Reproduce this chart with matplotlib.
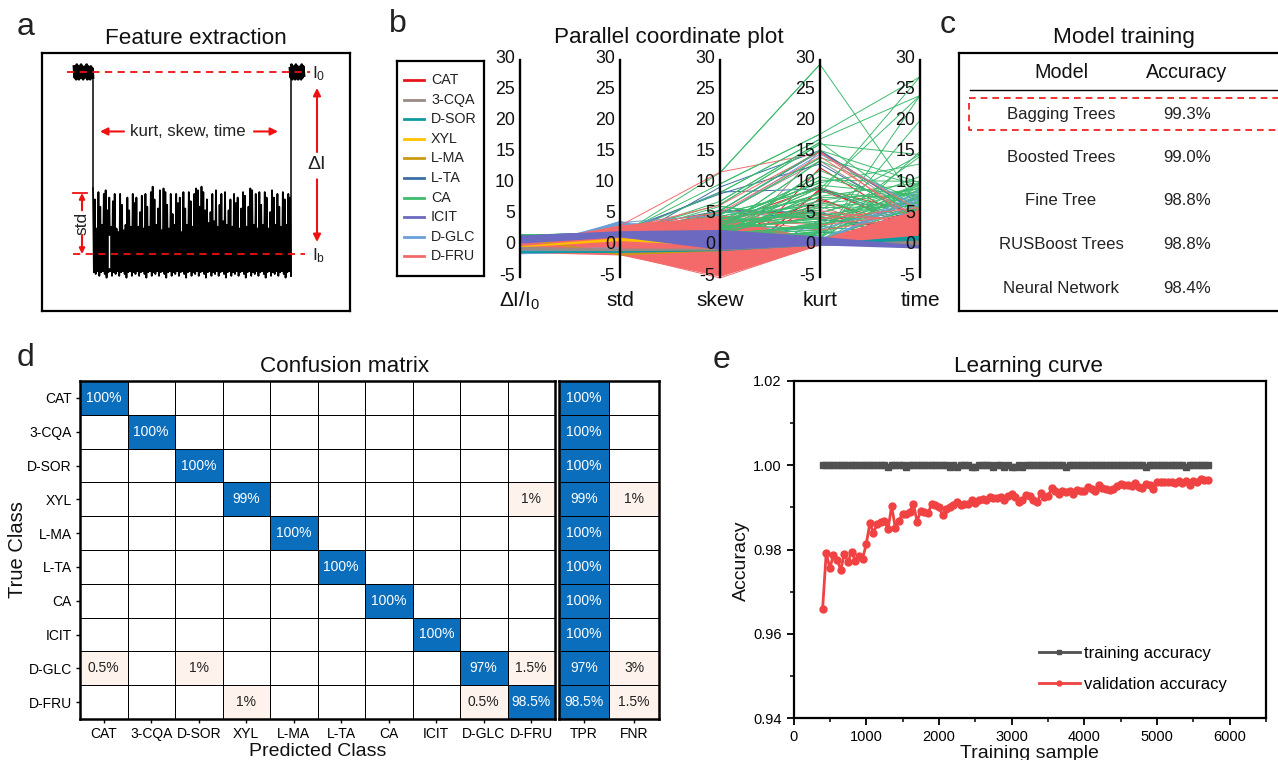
import numpy as np
import matplotlib
matplotlib.use("Agg")
import matplotlib.pyplot as plt
from matplotlib.colors import ListedColormap, BoundaryNorm
from matplotlib.ticker import MultipleLocator

W, H = 1278, 760
plt.rcParams["font.family"] = ["Liberation Sans", "DejaVu Sans"]
plt.rcParams["mathtext.default"] = "regular"
plt.rcParams["mathtext.fontset"] = "custom"
plt.rcParams["mathtext.rm"] = "Liberation Sans"

# panel a: nanopore trace, current relative to I0 = 1 and Ib = 0
spike_tops = [0.36, 0.30, 0.14, 0.34, 0.26, 0.16, 0.33, 0.35, 0.24, 0.31, 0.15, 0.29, 0.33, 0.14, 0.12, 0.33, 0.27,
              0.13, 0.16, 0.31, 0.24, 0.15, 0.33, 0.28, 0.31, 0.15, 0.23, 0.32, 0.14, 0.33, 0.26, 0.15, 0.34, 0.37,
              0.30, 0.16, 0.25, 0.35, 0.13, 0.36, 0.34, 0.27, 0.14, 0.33, 0.22, 0.16, 0.33, 0.28, 0.31, 0.12, 0.34,
              0.25, 0.16, 0.34, 0.29, 0.15, 0.33, 0.36, 0.35, 0.26, 0.37, 0.34, 0.24, 0.30, 0.17, 0.23, 0.33, 0.18,
              0.35, 0.15, 0.27, 0.33, 0.18, 0.34, 0.16, 0.24, 0.30, 0.15, 0.33, 0.28, 0.31, 0.14, 0.25, 0.34, 0.32,
              0.15, 0.26, 0.36, 0.35, 0.16, 0.33, 0.14, 0.34, 0.27, 0.16, 0.34, 0.31, 0.14, 0.23, 0.35, 0.31, 0.16,
              0.33, 0.26, 0.15, 0.34, 0.30, 0.16, 0.33, 0.31]
base_levels = [-0.10, -0.11, -0.09, -0.12, -0.10, -0.09, -0.11, -0.13, -0.10, -0.09, -0.12]
open_noise_left = [1.03, 0.97, 1.02, 0.96, 1.04, 0.98, 1.03, 0.96, 1.02, 0.97, 1.04, 0.97, 1.03, 0.96, 1.02, 0.98,
                   1.03, 0.97, 1.04, 0.96, 1.03, 0.97, 1.02, 0.96, 1.03, 0.98, 1.02, 0.97]
open_noise_right = [1.02, 0.97, 1.04, 0.96, 1.03, 0.97, 1.02, 0.96, 1.04, 0.97, 1.03, 0.96, 1.02, 0.97, 1.03, 0.96,
                    1.04, 0.97, 1.03, 0.98]

# panel b
features = ["\u0394I/I$_0$", "std", "skew", "kurt", "time"]
axis_ticks = [-5, 0, 5, 10, 15, 20, 25, 30]
classes = ["CAT", "3-CQA", "D-SOR", "XYL", "L-MA", "L-TA", "CA", "ICIT", "D-GLC", "D-FRU"]
class_colors = ["#e8141c", "#9b8a84", "#0e9a9e", "#ffc000", "#c99a10", "#3a6ea5", "#3dbb6e", "#6b69c0", "#6a9fd8", "#f46a6a"]

lines_cat = [[-1.1, -1, -4.8, 9, 5], [-1.2, -0.8, -4.6, 12.4, 2.5], [-1, -1.2, -4.2, 8.8, 3], [-1.1, 0.2, 1, 7.2, 2.5],
             [-1, 0.4, 3.5, 9.3, 2], [-1.1, 0.6, 5.5, 5, 1.5], [-1.2, -1.3, -4, 7.5, 1.2], [-1, 1.5, 2.5, 4.5, 1.8]]
lines_cqa = [[-0.5, -0.7, -2, 15.2, 4], [-0.4, 0.5, 5, 13.5, 3.5], [-0.5, 0.2, 4, 7, 1], [-0.4, -0.5, 3, 6.2, 0.8],
             [-0.6, -0.4, 5.5, 4.6, 0.7]]
lines_sor = [[-0.6, -0.8, 1, 3, 1.4], [-0.5, -0.6, -2, 2, 1.2], [-0.4, -0.5, 5.3, 4.2, 1.5]]
lines_lta = [[-1, 0.2, 9.3, 15.2, 5], [-1, 2.2, 8.2, 13, 4], [-0.9, 1.8, 8.5, 9, 3.5], [-1, 2.5, 5.5, 15, 5],
             [-0.9, 1.2, 5.6, 5.2, 2], [-1, -1.2, -4.4, 4, 3], [-1.1, -1, -3.5, 2, 2.5]]
lines_ca = [[1.5, 1.6, 11.6, 29, 6], [1.4, 1.8, 9.8, 17.8, 27], [1.5, 1.7, 8.4, 17, 24], [1.6, 1.9, 6.5, 16.2, 14.5],
            [1.4, 1.6, 5.5, 15.2, 10], [1.5, 2.1, 4.8, 14, 9.5], [1.5, 1.6, 7, 16.5, 5], [1.4, 1.5, 3, 10.4, 10.2],
            [1.5, 1.8, 4, 10, 13], [1.5, 1.6, 2.5, 9.6, 8], [1.6, 1.9, 5, 9, 24], [1.4, 1.7, 3.5, 8.2, 27], [1.5, 1.4, 2, 7.8, 10],
            [1.5, 1.5, 1.5, 7.2, 9], [1.6, 1.7, 4.2, 6.6, 8.5], [1.4, 1.9, 3.3, 5.6, 14.5], [1.5, 1.5, 2.8, 5, 11],
            [1.5, 1.6, 2.2, 4.5, 8], [1.4, 1.5, 6.2, 4, 9.6], [1.5, 1.4, 1, 3.6, 7.5], [1.6, 1.7, 1.8, 3, 10],
            [1.5, 1.5, 3.2, 2.6, 14.2], [1.4, 1.4, 1.2, 2, 7], [1.5, 1.6, 2.1, 1.5, 9], [1.5, 1.5, 1.4, 1, 20],
            [1.6, 1.8, 2.4, 0.6, 24], [1.4, 1.3, 0.8, 0.4, 9.8], [1.5, 1.4, 0.9, 0.2, 8], [1.5, 1.6, 1.5, 0.2, 15],
            [1.5, 1.5, 1, 12, 5], [1.5, 1.7, 2.6, 13.5, 7], [1.6, 1.7, 3.4, 11, 6.5], [1.5, 1.5, 2.3, 6, 6.2],
            [1.4, 1.4, 1.1, 8.5, 7.2], [1.5, 1.6, 1.7, 3.2, 6.8], [1.5, 1.5, 0.7, 2.2, 5.8], [1.4, 1.6, 1.6, 0.8, 6.4],
            [1.5, 1.5, 1.2, 1.8, 10], [1.5, 1.7, 2.9, 3.8, 8.8], [1.5, 1.5, 0.6, 0.5, 7.8], [1.5, 1.6, 4.6, 7.6, 8],
            [1.4, 1.5, 3.6, 5.2, 9.2], [1.5, 1.7, 2.7, 4.2, 7.4], [1.5, 1.4, 1.9, 2.8, 8.4], [1.6, 1.6, 2.4, 6.4, 6.6],
            [1.4, 1.5, 1.3, 1.2, 9.4], [1.5, 1.5, 0.9, 3.4, 6], [1.5, 1.7, 3.9, 4.8, 7], [1.5, 1.4, 1.6, 2.4, 7.8],
            [1.6, 1.6, 2, 9.2, 4.2], [1.5, 1.5, 1.1, 0.9, 6.2], [1.4, 1.6, 4.4, 3.4, 5.6]]
lines_icit = [[1, 1.5, 3, 1.2, -0.2], [0.5, 2, 2.5, 0.8, -0.3], [1.4, 2.2, 0.5, 0.4, -0.4]]
lines_glc = [[-1.3, 3.8, -4.5, 0.2, 8.8], [-1.2, 3.6, 4.8, 14.6, 6], [-1.1, 3.4, -3.6, 0.4, 7.6], [-1.2, 3.2, 3, 2.5, 7.2],
             [-1.3, 3.5, -4.9, 0.3, 8.2], [-1.2, 3.7, 2, 1, 6.6]]
lines_fru = [[-1, 3.1, 11.7, 14.8, 5.5], [-1.1, 2.9, 5.2, 14.2, 4], [-0.9, 2.5, 6.4, 15, 3], [-1, 2.2, 4.5, 5.5, 3.5],
             [-1.1, -1.4, -5.3, 0.1, 5], [-1, -1.2, -5, 0.2, 4], [-0.9, 3, 4.6, 4.2, 6], [-1, 2.8, 4.2, 3.2, 5],
             [-1, 3.0, 4.4, 2.4, 4.6], [-0.9, 2.7, 3.8, 4.8, 3.8]]
class_lines = [lines_cat, lines_cqa, lines_sor, lines_lta, lines_ca, lines_icit, lines_glc, lines_fru]
line_colors = ["#e8141c", "#9b8a84", "#0e9a9e", "#3a6ea5", "#3dbb6e", "#6b69c0", "#6a9fd8", "#f46a6a"]

# dense bundles read as envelopes on the five axes
band_glc_low = [-1.4, -1.0, -4.6, 0, 0.4]
band_glc_high = [-0.5, 3.9, 0.5, 0.6, 6.2]
band_glc2_low = [-1.4, -1.0]
band_glc2_high = [-0.5, -0.3]
band_fru_low = [-1.2, -1.6, -5.0, 0, 0.6]
band_fru_high = [0.3, 3.2, 4.4, 1.0, 5.8]
band_icit_low = [0.3, 1.3, -0.7, 0, -0.5]
band_icit_high = [1.6, 2.3, 2.5, 1.4, 0.0]
band_sor_low = [-1.2, -1.2, -0.9, 0, 0.4]
band_sor_high = [-0.9, -0.9, -0.6, 0.3, 1.6]
band_cqa_low = [-0.8, -0.9, -0.8, 0, -0.1]
band_cqa_high = [-0.2, -0.5, -0.5, 0.2, 0.8]
band_xyl_low = [-0.3, 0.7, -0.1]
band_xyl_high = [-0.1, 1.2, 0.2]
band_lma_low = [1.0, -1.6, -0.9]
band_lma_high = [1.2, -1.3, -0.7]

# panel c
model_names = ["Bagging Trees", "Boosted Trees", "Fine Tree", "RUSBoost Trees", "Neural Network"]
model_accuracy = ["99.3%", "99.0%", "98.8%", "98.8%", "98.4%"]

# panel d
confusion = [[100, 0, 0, 0, 0, 0, 0, 0, 0, 0],
             [0, 100, 0, 0, 0, 0, 0, 0, 0, 0],
             [0, 0, 100, 0, 0, 0, 0, 0, 0, 0],
             [0, 0, 0, 99, 0, 0, 0, 0, 0, 1],
             [0, 0, 0, 0, 100, 0, 0, 0, 0, 0],
             [0, 0, 0, 0, 0, 100, 0, 0, 0, 0],
             [0, 0, 0, 0, 0, 0, 100, 0, 0, 0],
             [0, 0, 0, 0, 0, 0, 0, 100, 0, 0],
             [0.5, 0, 1, 0, 0, 0, 0, 0, 97, 1.5],
             [0, 0, 0, 1, 0, 0, 0, 0, 0.5, 98.5]]
tpr = [100, 100, 100, 99, 100, 100, 100, 100, 97, 98.5]
fnr = [0, 0, 0, 1, 0, 0, 0, 0, 3, 1.5]

# panel e
train_samples = [400, 450, 500, 550, 600, 650, 700, 750, 800, 850, 900, 950, 1000, 1050, 1100, 1150, 1200, 1250, 1300,
                 1350, 1400, 1450, 1500, 1550, 1600, 1650, 1700, 1750, 1800, 1850, 1900, 1950, 2000, 2050, 2100, 2150,
                 2200, 2250, 2300, 2350, 2400, 2450, 2500, 2550, 2600, 2650, 2700, 2750, 2800, 2850, 2900, 2950, 3000,
                 3050, 3100, 3150, 3200, 3250, 3300, 3350, 3400, 3450, 3500, 3550, 3600, 3650, 3700, 3750, 3800, 3850,
                 3900, 3950, 4000, 4050, 4100, 4150, 4200, 4250, 4300, 4350, 4400, 4450, 4500, 4550, 4600, 4650, 4700,
                 4750, 4800, 4850, 4900, 4950, 5000, 5050, 5100, 5150, 5200, 5250, 5300, 5350, 5400, 5450, 5500, 5550,
                 5600, 5650, 5700]
validation_acc = [0.9658, 0.9792, 0.9755, 0.9788, 0.9775, 0.9752, 0.9790, 0.9770, 0.9795, 0.9772, 0.9785, 0.9778, 0.9812,
                  0.9862, 0.9840, 0.9860, 0.9866, 0.9868, 0.9848, 0.9903, 0.9852, 0.9868, 0.9885, 0.9885, 0.9890, 0.9908,
                  0.9866, 0.9892, 0.9890, 0.9886, 0.9908, 0.9905, 0.9900, 0.9882, 0.9895, 0.9900, 0.9905, 0.9912, 0.9905,
                  0.9908, 0.9908, 0.9918, 0.9910, 0.9918, 0.9920, 0.9918, 0.9925, 0.9922, 0.9922, 0.9925, 0.9918, 0.9928,
                  0.9932, 0.9925, 0.9912, 0.9918, 0.9930, 0.9926, 0.9918, 0.9912, 0.9933, 0.9924, 0.9926, 0.9945, 0.9938,
                  0.9932, 0.9940, 0.9936, 0.9938, 0.9932, 0.9942, 0.9940, 0.9938, 0.9948, 0.9944, 0.9940, 0.9952, 0.9946,
                  0.9944, 0.9942, 0.9944, 0.9950, 0.9956, 0.9953, 0.9952, 0.9950, 0.9958, 0.9948, 0.9947, 0.9955, 0.9952,
                  0.9944, 0.9960, 0.9960, 0.9961, 0.9961, 0.9961, 0.9957, 0.9963, 0.9958, 0.9962, 0.9954, 0.9962, 0.9960,
                  0.9968, 0.9966, 0.9965]
training_acc = [1.0] * 107
for i in [18, 23, 35, 37, 41, 42, 47, 50, 52, 53, 55, 67, 89, 100]:
    training_acc[i] = 0.9997


def px_axes(x0, y0, x1, y1):
    return fig.add_axes([x0 / W, 1 - y1 / H, (x1 - x0) / W, (y1 - y0) / H])


fig = plt.figure(figsize=(12.78, 7.6), dpi=100, facecolor="white")

for letter, lx, ly in [("a", 26, 27), ("b", 398, 24), ("c", 948, 25), ("d", 26, 358), ("e", 721, 360)]:
    fig.text(lx / W, 1 - ly / H, letter, fontsize=23, ha="center", va="center", color="#222222")
for title, tx, ty in [("Feature extraction", 196, 38), ("Parallel coordinate plot", 669, 38), ("Model training", 1124, 38),
                      ("Confusion matrix", 345, 366), ("Learning curve", 1029, 366)]:
    fig.text(tx / W, 1 - ty / H, title, fontsize=16.2, ha="center", va="center", color="#111111")

# ---- a
ax = px_axes(42, 53, 350, 311)
ax.set_xlim(0, 308)
ax.set_ylim(-0.313, 1.104)
ax.set_xticks([])
ax.set_yticks([])
for s in ax.spines.values():
    s.set_linewidth(1.6)
tx = np.linspace(51, 249, len(spike_tops) * 2)
ty = []
for i, top in enumerate(spike_tops):
    ty += [top, base_levels[i % len(base_levels)]]
ax.plot(tx, ty, color="black", lw=1.3)
ax.fill_between([51, 249], -0.10, 0.09, color="black", lw=0)
ax.plot([66.5, 66.5], [-0.07, 0.1], color="white", lw=1)
ax.plot(np.linspace(32, 51, len(open_noise_left)), open_noise_left, color="black", lw=2)
ax.plot(np.linspace(248, 262, len(open_noise_right)), open_noise_right, color="black", lw=2)
ax.plot([51, 51], [1, ty[0]], color="black", lw=1.1)
ax.plot([248.5, 248.5], [1, ty[-1]], color="black", lw=1.1)
ax.plot([25, 268], [1, 1], color="#f01010", lw=1.3, ls=(0, (4, 3)))
ax.plot([31, 263], [0, 0], color="#f01010", lw=1.3, ls=(0, (4, 3)))
ax.plot([31, 45], [0.335, 0.335], color="#f01010", lw=1.3)
arrow_red = dict(arrowstyle="-|>", color="#f01010", lw=1.5, mutation_scale=11, shrinkA=0, shrinkB=0)
ax.annotate("", xy=(275, 0.912), xytext=(275, 0.56), arrowprops=arrow_red)
ax.annotate("", xy=(275, 0.066), xytext=(275, 0.41), arrowprops=arrow_red)
ax.annotate("", xy=(40, 0.335), xytext=(40, 0.24), arrowprops=dict(arrow_red, mutation_scale=8))
ax.annotate("", xy=(40, 0.0), xytext=(40, 0.105), arrowprops=dict(arrow_red, mutation_scale=8))
ax.annotate("", xy=(58, 0.673), xytext=(82, 0.673), arrowprops=arrow_red)
ax.annotate("", xy=(236, 0.673), xytext=(212, 0.673), arrowprops=arrow_red)
ax.text(146, 0.673, "kurt, skew, time", fontsize=12.1, ha="center", va="center", color="#222222")
ax.text(275, 0.49, "\u0394I", fontsize=14, ha="center", va="center", color="#222222")
ax.text(40, 0.17, "std", fontsize=12.5, rotation=90, ha="center", va="center", color="#222222")
ax.text(270, 0.99, "I$_0$", fontsize=12.5, ha="left", va="center", color="#222222")
ax.text(270, -0.01, "I$_b$", fontsize=12.5, ha="left", va="center", color="#222222")

# ---- b
ax = px_axes(510, 60, 930, 277)
ax.set_xlim(-0.1, 4.1)
ax.set_ylim(-5.14, 29.7)
ax.axis("off")
pos = [0, 1, 2, 3, 4]
ax.fill_between(pos, band_glc_low, band_glc_high, color=class_colors[8], lw=0, zorder=2)
ax.fill_between(pos, band_fru_low, band_fru_high, color=class_colors[9], lw=0, zorder=3)
ax.fill_between(pos[:2], band_glc2_low, band_glc2_high, color=class_colors[8], lw=0, zorder=4)
ax.fill_between(pos[:3], band_xyl_low, band_xyl_high, color=class_colors[3], lw=0, zorder=4)
ax.fill_between(pos[:3], band_lma_low, band_lma_high, color=class_colors[4], lw=0, zorder=3.8)
ax.fill_between(pos, band_icit_low, band_icit_high, color=class_colors[7], lw=0, zorder=5)
ax.fill_between(pos, band_sor_low, band_sor_high, color=class_colors[2], lw=0, zorder=4)
ax.fill_between(pos, band_cqa_low, band_cqa_high, color=class_colors[1], lw=0, zorder=4)
for rows, color in zip(class_lines, line_colors):
    for row in rows:
        ax.plot(pos, row, color=color, lw=0.7, zorder=2.5, clip_on=False)
# only the CA fan stays visible over the D-FRU bundle between skew and kurt
for row in lines_ca:
    ax.plot(pos[2:4], row[2:4], color=class_colors[6], lw=0.7, zorder=3.5)
for p, name in zip(pos, features):
    ax.plot([p, p], [-5.14, 29.7], color="black", lw=1.7, zorder=6, clip_on=False)
    for t in axis_ticks:
        ax.text(p - 0.05, t, str(t), fontsize=12.8, ha="right", va="center", color="#111111", zorder=7)
    ax.text(p, -8.9, name, fontsize=15, ha="center", va="center", color="#111111")

leg = px_axes(397, 61, 484, 276)
leg.set_xlim(0, 87)
leg.set_ylim(215, 0)
leg.set_xticks([])
leg.set_yticks([])
for s in leg.spines.values():
    s.set_linewidth(1.6)
for i, (name, color) in enumerate(zip(classes, class_colors)):
    yy = 19 + i * 19.6
    leg.plot([7, 27], [yy, yy], color=color, lw=2)
    leg.text(34, yy, name, fontsize=10.3, ha="left", va="center", color="#222222")

# ---- c
ax = px_axes(959, 53, 1290, 311)
ax.set_xlim(959, 1290)
ax.set_ylim(311, 53)
ax.set_xticks([])
ax.set_yticks([])
for s in ax.spines.values():
    s.set_linewidth(1.6)
ax.text(1061, 72, "Model", fontsize=14.2, ha="center", va="center", color="#111111")
ax.text(1187, 72, "Accuracy", fontsize=14.2, ha="center", va="center", color="#111111")
ax.plot([970, 1278], [90, 90], color="black", lw=1)
ax.plot([1290, 969, 969, 1290], [98, 98, 130, 130], color="#f01010", lw=1.2, ls=(0, (4, 3)), clip_on=False)
row_y = [114.5, 157.5, 200.5, 244.5, 288.5]
for name, acc, yy in zip(model_names, model_accuracy, row_y):
    ax.text(1061, yy, name, fontsize=12.1, ha="center", va="center", color="#222222")
    ax.text(1187, yy, acc, fontsize=12.1, ha="center", va="center", color="#222222")

# ---- d
cm_cmap = ListedColormap(["#ffffff", "#fdf2ec", "#0a6ebd"])
cm_norm = BoundaryNorm([-1, 0.1, 50, 101], 3)


def cell_text(v):
    return "" if v == 0 else ("%g%%" % v)


def draw_matrix(ax, values):
    values = np.array(values, dtype=float)
    ny, nx = values.shape
    ax.pcolormesh(np.arange(nx + 1), np.arange(ny + 1), values, cmap=cm_cmap, norm=cm_norm, edgecolors="black", linewidth=0.6)
    ax.set_xlim(0, nx)
    ax.set_ylim(ny, 0)
    for r in range(ny):
        for c in range(nx):
            v = values[r, c]
            ax.text(c + 0.5, r + 0.5, cell_text(v), fontsize=10, ha="center", va="center",
                    color="white" if v >= 50 else "#222222")
    for s in ax.spines.values():
        s.set_linewidth(1.8)
    ax.tick_params(length=3, width=1, labelsize=10, pad=3)
    ax.set_xticks(np.arange(nx) + 0.5)


ax = px_axes(80, 381, 555, 719)
draw_matrix(ax, confusion)
ax.set_xticklabels(classes)
ax.set_yticks(np.arange(10) + 0.5)
ax.set_yticklabels(classes)
ax.set_xlabel("Predicted Class", fontsize=14, labelpad=1, color="#111111")
ax.set_ylabel("True Class", fontsize=14.5, color="#111111")
ax.yaxis.set_label_coords(-0.112, 0.5)

ax = px_axes(559, 381, 659, 719)
draw_matrix(ax, np.column_stack([tpr, fnr]))
ax.set_xticklabels(["TPR", "FNR"])
ax.set_yticks([])

# ---- e
ax = px_axes(793.5, 381, 1266, 718)
ax.plot(train_samples, training_acc, color="#505050", lw=2, marker="s", ms=4.4, label="training accuracy")
ax.plot(train_samples, validation_acc, color="#f04242", lw=2, marker="o", ms=5, label="validation accuracy")
ax.set_xlim(0, 6500)
ax.set_ylim(0.94, 1.02)
ax.set_xticks([0, 1000, 2000, 3000, 4000, 5000, 6000])
ax.set_yticks([0.94, 0.96, 0.98, 1.00, 1.02])
ax.set_yticklabels(["0.94", "0.96", "0.98", "1.00", "1.02"])
ax.xaxis.set_minor_locator(MultipleLocator(500))
ax.yaxis.set_minor_locator(MultipleLocator(0.01))
ax.tick_params(which="major", length=5, width=1.3, labelsize=10.5)
ax.tick_params(which="minor", length=3, width=1.1)
for s in ax.spines.values():
    s.set_linewidth(1.6)
ax.set_xlabel("Training sample", fontsize=14, labelpad=1, color="#111111")
ax.set_ylabel("Accuracy", fontsize=14, color="#111111")
ax.yaxis.set_label_coords(-0.0915, 0.466)
ax.legend(loc="lower left", bbox_to_anchor=(0.487, 0.032), frameon=False, fontsize=12, handlelength=2.5, labelspacing=1.0,
          handletextpad=0.25, markerscale=0.7)

fig.savefig("out.png", dpi=100)
